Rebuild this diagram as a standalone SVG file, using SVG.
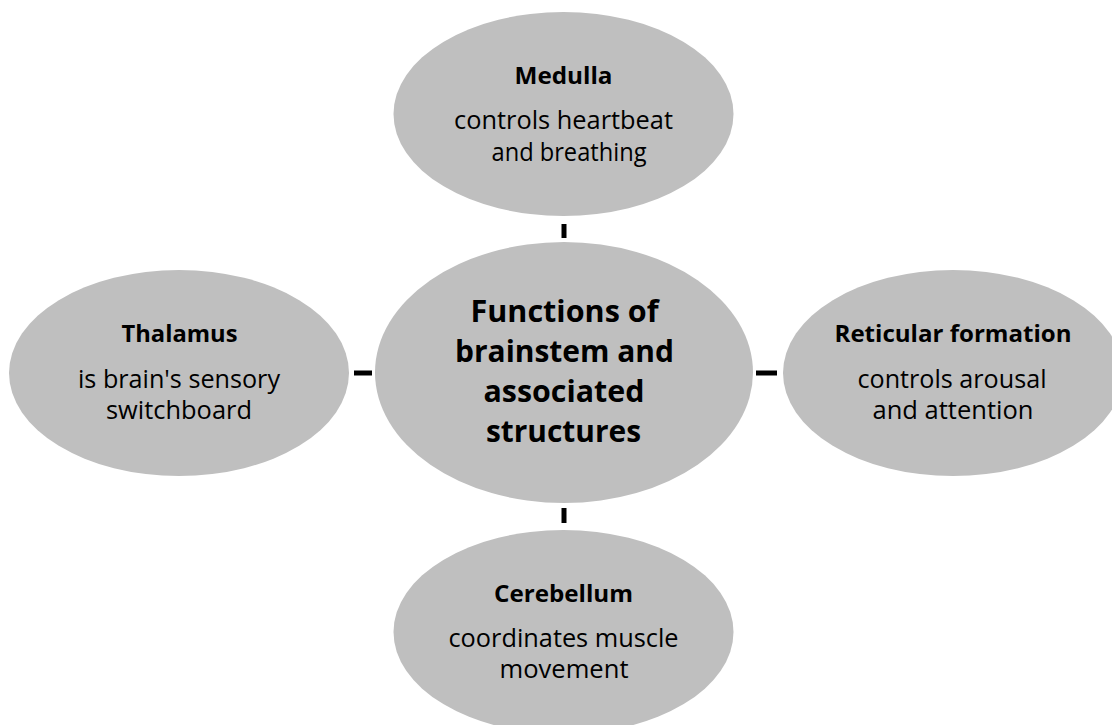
<svg xmlns="http://www.w3.org/2000/svg" width="1112" height="725" viewBox="0 0 1112 725">
<style>
.node{fill:#bfbfbf;stroke:none}
.t{font-family:"Open Sans","Noto Sans","Liberation Sans",sans-serif;fill:#000;text-anchor:middle}
.h{font-weight:bold;font-size:24px}
.b{font-size:25px}
.c{font-weight:bold;font-size:30.5px}
.con{stroke:#000;stroke-width:5;fill:none}
</style>
<rect width="1112" height="725" fill="#fff"/>
<g id="connectors">
<line class="con" x1="564" y1="224" x2="564" y2="238"/>
<line class="con" x1="564" y1="508" x2="564" y2="523"/>
<line class="con" x1="354" y1="373" x2="372" y2="373"/>
<line class="con" x1="756" y1="373" x2="777" y2="373"/>
</g>
<g id="center">
<ellipse class="node" cx="564" cy="372.5" rx="189" ry="130.5"/>
<text class="t c" x="564.5" y="322" textLength="188" lengthAdjust="spacingAndGlyphs">Functions of</text>
<text class="t c" x="564.5" y="362" textLength="219" lengthAdjust="spacingAndGlyphs">brainstem and</text>
<text class="t c" x="564" y="402" textLength="161" lengthAdjust="spacingAndGlyphs">associated</text>
<text class="t c" x="563.5" y="442" textLength="155" lengthAdjust="spacingAndGlyphs">structures</text>
</g>
<g id="medulla">
<ellipse class="node" cx="563.5" cy="114" rx="170" ry="102"/>
<text class="t h" x="563.5" y="84" textLength="98" lengthAdjust="spacingAndGlyphs">Medulla</text>
<text class="t b" x="563.5" y="129" textLength="219" lengthAdjust="spacingAndGlyphs">controls heartbeat</text>
<text class="t b" x="569" y="161" textLength="155" lengthAdjust="spacingAndGlyphs">and breathing</text>
</g>
<g id="thalamus">
<ellipse class="node" cx="179" cy="373" rx="170" ry="103"/>
<text class="t h" x="179.5" y="342" textLength="116" lengthAdjust="spacingAndGlyphs">Thalamus</text>
<text class="t b" x="179" y="388" textLength="202" lengthAdjust="spacingAndGlyphs">is brain's sensory</text>
<text class="t b" x="179" y="419" textLength="146" lengthAdjust="spacingAndGlyphs">switchboard</text>
</g>
<g id="reticular">
<ellipse class="node" cx="953" cy="373" rx="170" ry="103"/>
<text class="t h" x="953" y="342" textLength="237" lengthAdjust="spacingAndGlyphs">Reticular formation</text>
<text class="t b" x="952" y="388" textLength="189" lengthAdjust="spacingAndGlyphs">controls arousal</text>
<text class="t b" x="953" y="419" textLength="161" lengthAdjust="spacingAndGlyphs">and attention</text>
</g>
<g id="cerebellum">
<ellipse class="node" cx="563.5" cy="632" rx="170" ry="102"/>
<text class="t h" x="563.5" y="602" textLength="139" lengthAdjust="spacingAndGlyphs">Cerebellum</text>
<text class="t b" x="563.5" y="647" textLength="230" lengthAdjust="spacingAndGlyphs">coordinates muscle</text>
<text class="t b" x="564" y="678" textLength="129" lengthAdjust="spacingAndGlyphs">movement</text>
</g>
</svg>
